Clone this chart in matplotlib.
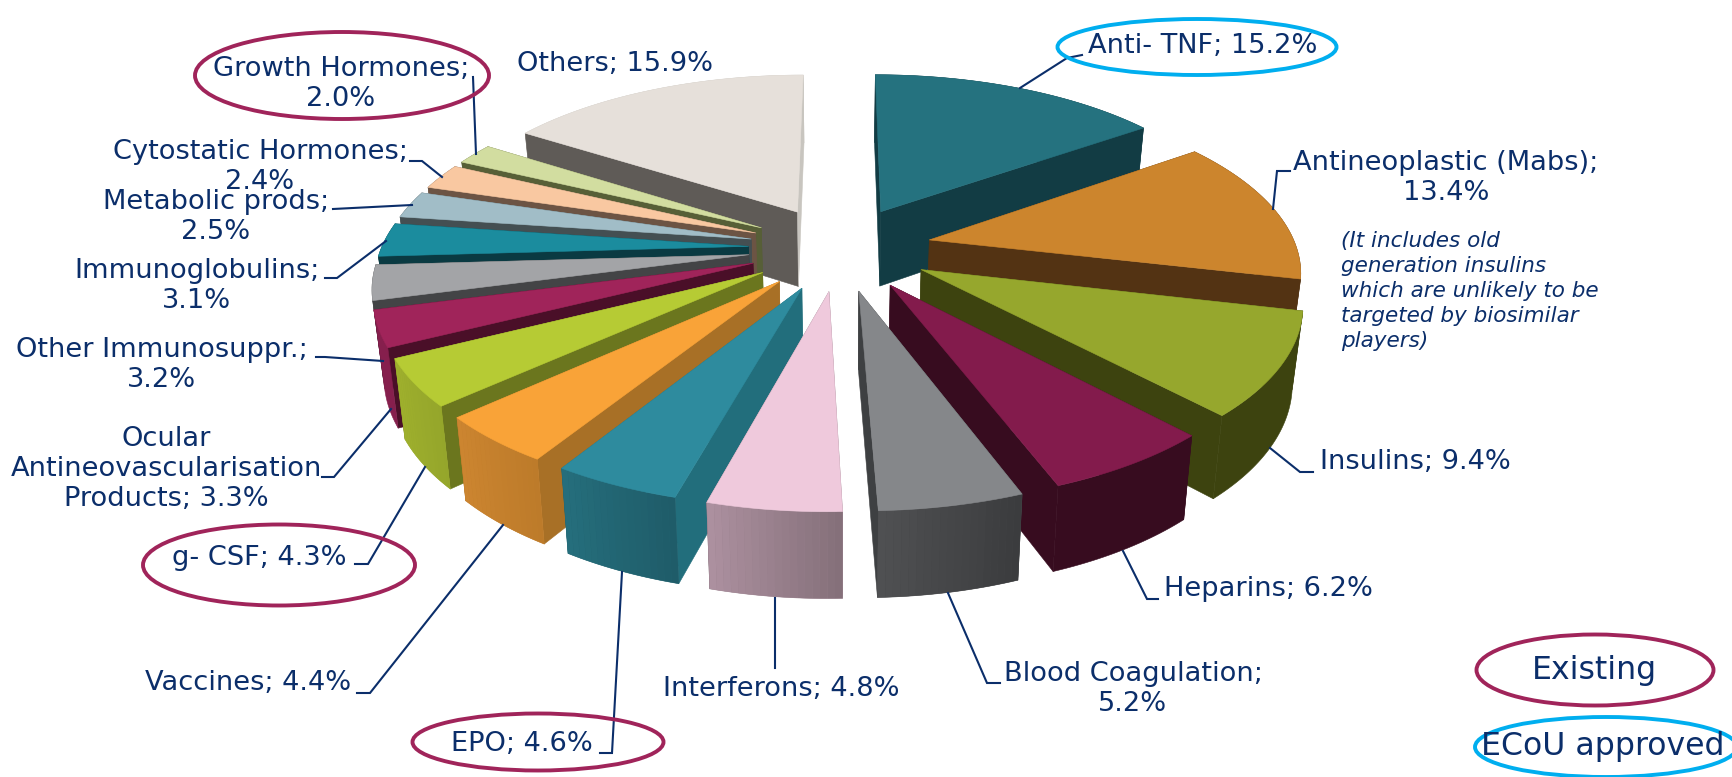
import numpy as np
import matplotlib
matplotlib.use("Agg")
import matplotlib.pyplot as plt
from matplotlib.patches import Polygon, Ellipse
from matplotlib.colors import to_rgb

categories = ["Anti- TNF", "Antineoplastic (Mabs)", "Insulins", "Heparins", "Blood Coagulation",
              "Interferons", "EPO", "Vaccines", "g- CSF", "Ocular Antineovascularisation Products",
              "Other Immunosuppr.", "Immunoglobulins", "Metabolic prods", "Cytostatic Hormones",
              "Growth Hormones", "Others"]
values = [15.2, 13.4, 9.4, 6.2, 5.2, 4.8, 4.6, 4.4, 4.3, 3.3, 3.2, 3.1, 2.5, 2.4, 2.0, 15.9]
label_texts = ["Anti- TNF; 15.2%", "Antineoplastic (Mabs);\n13.4%", "Insulins; 9.4%", "Heparins; 6.2%",
               "Blood Coagulation;\n5.2%", "Interferons; 4.8%", "EPO; 4.6%", "Vaccines; 4.4%",
               "g- CSF; 4.3%", "Ocular\nAntineovascularisation\nProducts; 3.3%",
               "Other Immunosuppr.;\n3.2%", "Immunoglobulins;\n3.1%", "Metabolic prods;\n2.5%",
               "Cytostatic Hormones;\n2.4%", "Growth Hormones;\n2.0%", "Others; 15.9%"]
note_text = ("(It includes old\ngeneration insulins\nwhich are unlikely to be\n"
             "targeted by biosimilar\nplayers)")

# ---- styles ----
top_colors = ["#25727F", "#CC852D", "#96A72D", "#831B4C", "#85878A", "#EFC9DC", "#2E8B9E", "#F9A338",
              "#B6CB34", "#A0245A", "#A3A4A7", "#1B8C9E", "#A1BDC7", "#F9C8A1", "#D2DDA0", "#E6E0DA"]
side_colors = ["#123C44", "#533313", "#3D430F", "#370C1F", "#3E4042", "#85707A", "#226E7C", "#A87026",
               "#6B761E", "#4A0F28", "#434446", "#0A3A42", "#444F52", "#6C5444", "#575F37", "#5F5B57"]
arc_start = ["#123C44", "#533313", "#3D430F", "#370C1F", "#3B3C3E", "#85707A", "#1F5C69", "#BD7B2A",
             "#95A62B", "#861F4D", "#434446", "#0A3A42", "#444F52", "#6C5444", "#575F37", "#C8C5BF"]
arc_end = ["#123C44", "#533313", "#3D430F", "#370C1F", "#4F5052", "#AC909F", "#256E7C", "#CC8530",
           "#9FB02D", "#861F4D", "#434446", "#0A3A42", "#444F52", "#6C5444", "#575F37", "#C8C5BF"]
end_side_override = {15: "#C8C5BF"}
NAVY = "#0B2E6A"
MAGENTA = "#A0245A"
CYAN = "#00AEEF"

# ---- projection of the tilted, exploded pie ----
CX, CY = 840.0, 248.0
A, B, K = 367.0, 169.3, 0.159
EXPLODE = 0.25
HEIGHT = 76.0


def project(x, y):
    w = 1 + K * y
    return CX + A * x / w, CY - B * y / w


def project_low(x, y):
    sx, sy = project(x, y)
    return CX + (sx - CX) * 0.977, sy + HEIGHT / (1 + 0.1 * y)


fig = plt.figure(figsize=(17.33, 7.77), dpi=100)
ax = fig.add_axes([0, 0, 1, 1])
ax.set_xlim(0, 1733)
ax.set_ylim(777, 0)
ax.axis("off")


def poly(points, color, z, lw=0.4):
    ax.add_patch(Polygon(points, closed=True, facecolor=color, edgecolor=color if lw else "none",
                         linewidth=lw, joinstyle="round", zorder=z))


vals = np.array(values, dtype=float)
edges = np.concatenate([[0], np.cumsum(vals)]) / vals.sum() * 2 * np.pi
mids = (edges[:-1] + edges[1:]) / 2
order = np.argsort(-np.cos(mids))

z = 2.0
for i in order:
    a0, a1, m = edges[i], edges[i + 1], mids[i]
    ax0, ay0 = EXPLODE * np.sin(m), EXPLODE * np.cos(m)
    th = np.linspace(a0, a1, max(12, int(vals[i] * 4)))
    xs = ax0 + np.sin(th)
    ys = ay0 + np.cos(th)

    def radial(x, y, col):
        global z
        poly([project(ax0, ay0), project(x, y), project_low(x, y), project_low(ax0, ay0)], col, z)
        z += 0.001

    def arc_wall():
        global z
        c0, c1 = np.array(to_rgb(arc_start[i])), np.array(to_rgb(arc_end[i]))
        upper = [project(x, y) for x, y in zip(xs, ys)]
        lower = [project_low(x, y) for x, y in zip(xs, ys)]
        poly(upper + lower[::-1], tuple((c0 + c1) / 2), z)
        z += 0.001
        if arc_start[i] == arc_end[i]:
            return
        for k in range(len(th) - 1):
            t = k / max(1, len(th) - 2)
            col = tuple(c0 + (c1 - c0) * t)
            poly([upper[k], upper[k + 1], lower[k + 1], lower[k]], col, z, lw=0)
            z += 0.001

    if np.cos(m) > 0:
        arc_wall()
    radial(xs[0], ys[0], side_colors[i])
    radial(xs[-1], ys[-1], end_side_override.get(i, side_colors[i]))
    if np.cos(m) <= 0:
        arc_wall()
    top = [project(ax0, ay0)] + [project(x, y) for x, y in zip(xs, ys)]
    poly(top, top_colors[i], z)
    z += 0.01

# ---- labels (layout in pixel coordinates) ----
label_pos = [(1203, 46), (1446, 178), (1415, 462), (1268, 589), (1133, 689), (781, 689), (522, 744),
             (248, 683), (259, 558), (166, 469), (162, 365), (197, 286), (216, 217), (260, 167),
             (341, 84), (615, 64)]
leaders = [[(1020, 88), (1067, 58), (1082, 55)],
           [(1273, 209), (1277, 171), (1290, 171)],
           [(1270, 448), (1300, 472), (1313, 472)],
           [(1123, 551), (1147, 599), (1158, 599)],
           [(948, 593), (987, 683), (1000, 683)],
           [(775, 598), (775, 668)],
           [(622, 572), (612, 753), (600, 753)],
           [(503, 525), (370, 693), (357, 693)],
           [(425, 467), (368, 564), (355, 564)],
           [(391, 409), (334, 477), (322, 477)],
           [(383, 361), (325, 357), (316, 357)],
           [(386, 241), (337, 278), (325, 278)],
           [(412, 205), (333, 209)],
           [(442, 177), (422, 161), (410, 161)],
           [(476, 154), (473, 77)],
           ]
for pts in leaders:
    p = np.array(pts)
    ax.plot(p[:, 0], p[:, 1], color=NAVY, lw=1.5, zorder=50, solid_joinstyle="miter")

FS = 19.6
for txt, (x, y) in zip(label_texts, label_pos):
    ax.text(x, y, txt, ha="center", va="center", color=NAVY, fontsize=FS, family="DejaVu Sans",
            linespacing=1.22, zorder=60)

ax.text(1341, 291, note_text, ha="left", va="center", color=NAVY, fontsize=15.5, style="italic",
        family="DejaVu Sans", linespacing=1.31, zorder=60)
ax.text(1594, 670, "Existing", ha="center", va="center", color=NAVY, fontsize=22.7, zorder=60)
ax.text(1603, 747, "ECoU approved", ha="center", va="center", color=NAVY, fontsize=22.7, zorder=60)

ellipses = [((342, 75.5), 294, 87, MAGENTA), ((1197, 47), 279, 56, CYAN), ((279, 565), 272, 81, MAGENTA),
            ((538, 742), 251, 57, MAGENTA), ((1595, 670), 237, 71, MAGENTA), ((1606, 747), 262, 60, CYAN)]
for c, w, h, col in ellipses:
    ax.add_patch(Ellipse(c, w, h, fill=False, edgecolor=col, linewidth=2.8, zorder=55))

fig.savefig("out.png", dpi=100, facecolor="white")
